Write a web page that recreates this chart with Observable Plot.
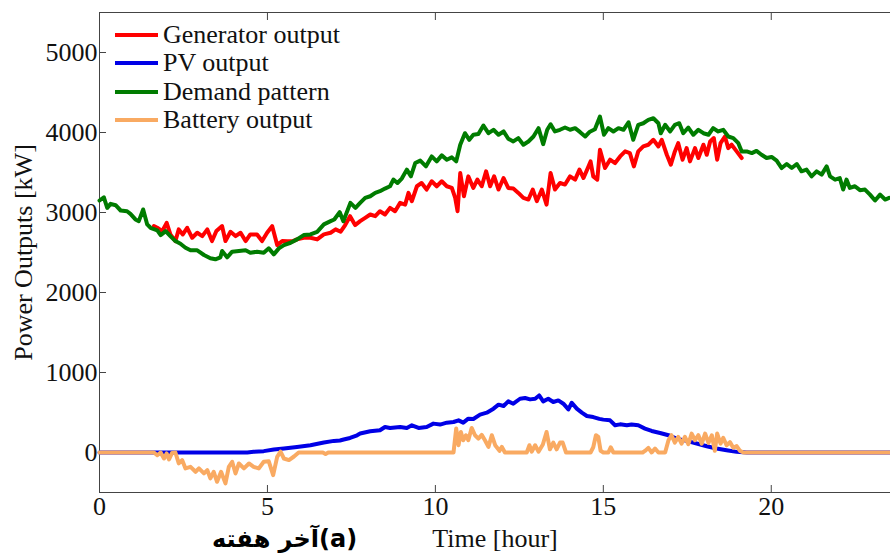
<!DOCTYPE html>
<html><head><meta charset="utf-8">
<script src="https://cdn.jsdelivr.net/npm/d3@7"></script>
<script src="https://cdn.jsdelivr.net/npm/@observablehq/plot@0.6"></script>
<style>
body{margin:0;background:#fff;}
#wrap{position:relative;width:890px;height:558px;overflow:hidden;font-family:"Liberation Serif","Times New Roman",serif;}
#legend{position:absolute;left:115px;top:20.5px;}
.row{display:flex;align-items:center;height:28.5px;font-size:26px;color:#111;white-space:nowrap;}
.sw{width:43px;height:4px;margin-right:5px;}
#cap{position:absolute;left:212px;top:525px;font-family:"DejaVu Sans",sans-serif;font-weight:bold;font-size:24px;color:#000;white-space:nowrap;}
</style></head><body><div id="wrap"></div>
<script>
// Demand pattern (green)
const demandT = [0,0.13,0.23,0.33,0.48,0.63,0.82,0.92,1.07,1.17,1.30,1.42,1.52,1.72,1.82,1.97,2.11,2.26,2.41,2.56,2.71,2.91,3.11,3.30,3.45,3.60,3.65,3.80,3.95,4.15,4.35,4.49,4.69,4.89,5.04,5.19,5.34,5.49,5.69,5.88,6.08,6.28,6.48,6.68,6.88,6.99,7.15,7.26,7.47,7.62,7.76,7.91,8.06,8.21,8.35,8.50,8.65,8.75,8.87,9.00,9.15,9.27,9.40,9.55,9.72,9.89,10.04,10.19,10.34,10.49,10.62,10.74,10.88,11.01,11.13,11.28,11.43,11.58,11.73,11.88,12.03,12.17,12.32,12.47,12.62,12.77,12.92,13.07,13.21,13.33,13.43,13.56,13.71,13.86,14.01,14.16,14.31,14.46,14.60,14.75,14.90,15.02,15.15,15.30,15.45,15.60,15.75,15.89,16.04,16.19,16.34,16.49,16.64,16.71,16.84,16.99,17.13,17.26,17.38,17.53,17.68,17.83,17.98,18.13,18.27,18.42,18.57,18.72,18.87,19.02,19.12,19.27,19.42,19.56,19.71,19.86,20.01,20.16,20.31,20.46,20.61,20.76,20.90,21.05,21.20,21.35,21.50,21.65,21.75,21.90,22.04,22.14,22.24,22.34,22.49,22.64,22.79,22.94,23.09,23.24,23.39,23.51];
const demandV = [3150,3190,3058,3108,3091,3025,3016,2983,2913,2892,3038,2851,2809,2776,2718,2768,2705,2643,2610,2560,2527,2527,2469,2428,2415,2440,2519,2440,2510,2519,2527,2497,2510,2497,2552,2477,2552,2593,2622,2664,2718,2726,2759,2851,2892,2913,3005,2890,3120,3058,3120,3182,3203,3245,3266,3299,3328,3411,3369,3424,3536,3452,3618,3648,3577,3701,3639,3714,3660,3689,3639,3847,3991,3909,3972,3980,4087,3991,4034,3972,4013,3922,3888,3930,3847,3888,3950,4054,3855,4034,4103,4013,4034,4062,4034,4054,4004,3950,4010,4040,4199,3972,4054,4013,4054,4034,4128,3909,4096,4116,4158,4178,4116,3991,4096,4013,4096,4116,3991,4062,3972,4034,3991,3972,4054,4013,4034,3950,3930,3867,3764,3764,3743,3770,3722,3681,3694,3648,3556,3606,3556,3606,3515,3536,3452,3515,3473,3577,3452,3411,3431,3287,3411,3307,3328,3279,3287,3224,3150,3224,3162,3182];

// Generator output (red)
const generatorT = [1.62,1.72,1.87,2.00,2.11,2.26,2.36,2.48,2.61,2.76,2.91,3.06,3.21,3.35,3.48,3.65,3.75,3.90,4.05,4.20,4.35,4.49,4.69,4.84,4.99,5.14,5.29,5.44,5.59,5.74,5.88,6.08,6.28,6.48,6.68,6.88,7.03,7.18,7.31,7.46,7.61,7.76,7.91,8.06,8.21,8.35,8.50,8.65,8.80,8.95,9.10,9.20,9.30,9.45,9.59,9.74,9.89,10.04,10.19,10.34,10.49,10.59,10.66,10.74,10.85,10.98,11.13,11.25,11.38,11.51,11.63,11.75,11.88,12.03,12.17,12.32,12.47,12.62,12.77,12.90,13.02,13.17,13.31,13.43,13.56,13.71,13.86,14.01,14.16,14.29,14.41,14.56,14.62,14.70,14.82,14.90,15.05,15.20,15.35,15.50,15.65,15.79,15.91,16.04,16.19,16.34,16.49,16.64,16.74,16.89,17.01,17.13,17.23,17.36,17.48,17.58,17.73,17.83,17.98,18.08,18.18,18.29,18.39,18.49,18.62,18.72,18.82,18.97,19.12];
const generatorV = [2830,2809,2768,2871,2726,2643,2789,2726,2809,2684,2747,2705,2789,2643,2768,2830,2643,2759,2705,2747,2643,2726,2726,2643,2747,2830,2593,2643,2640,2640,2664,2684,2684,2664,2726,2747,2789,2760,2840,2954,2843,2892,2933,2975,2954,3016,2975,3058,3016,3120,3099,3245,3141,3328,3369,3287,3390,3328,3390,3328,3307,3182,3016,3493,3203,3452,3307,3411,3328,3515,3328,3452,3287,3431,3307,3299,3245,3182,3162,3287,3141,3287,3099,3493,3287,3369,3349,3452,3411,3536,3431,3577,3639,3452,3411,3785,3556,3660,3618,3701,3764,3743,3577,3764,3826,3847,3909,3826,3909,3722,3598,3764,3867,3660,3805,3639,3805,3681,3847,3722,3888,3930,3660,3867,3950,3805,3847,3764,3681];

// PV output (blue)
const pvT = [0,1.7,4.40,4.59,4.89,5.19,5.49,5.88,6.28,6.68,6.98,7.16,7.27,7.46,7.67,7.76,8.06,8.35,8.50,8.65,8.95,9.15,9.30,9.50,9.74,9.94,10.14,10.34,10.54,10.69,10.83,10.98,11.13,11.33,11.53,11.73,11.88,12.03,12.17,12.32,12.52,12.67,12.82,12.97,13.09,13.21,13.36,13.51,13.66,13.81,13.96,14.06,14.21,14.36,14.51,14.70,14.88,15.00,15.20,15.35,15.50,15.70,15.84,16.04,16.24,16.44,16.69,16.94,17.18,17.48,17.78,18.08,18.37,18.67,18.97,19.27,23.55];
const pvV = [0,0,0,9,17,37,50,70,91,124,145,150,162,182,215,237,265,278,319,307,319,307,340,307,319,361,349,373,381,402,373,423,419,473,498,548,598,581,639,610,672,681,664,672,713,639,672,631,651,610,539,622,548,498,456,443,420,411,402,340,352,340,350,340,299,269,244,216,174,145,112,78,50,29,8,0,0];

// Battery output (orange)
const batteryT = [0,1.62,1.72,1.82,1.92,2.00,2.07,2.16,2.26,2.36,2.46,2.56,2.71,2.86,2.96,3.11,3.21,3.30,3.40,3.50,3.62,3.75,3.85,3.95,4.05,4.15,4.30,4.45,4.59,4.74,4.89,5.04,5.17,5.29,5.39,5.49,5.64,5.79,5.93,6.65,6.73,6.81,10.54,10.62,10.69,10.76,10.83,10.91,10.98,11.08,11.18,11.28,11.38,11.48,11.58,11.68,11.78,11.91,11.98,12.07,12.72,12.80,12.87,12.97,13.07,13.20,13.31,13.41,13.51,13.61,13.71,13.79,13.89,14.62,14.70,14.78,14.85,14.92,15.00,15.15,15.22,15.30,16.17,16.24,16.34,16.44,16.54,16.64,16.84,16.94,17.03,17.13,17.23,17.33,17.43,17.53,17.63,17.73,17.83,17.93,18.03,18.13,18.23,18.32,18.39,18.49,18.57,18.67,18.77,18.87,18.97,19.07,19.17,23.55];
const batteryV = [0,0,-34,0,-75,-12,-87,-5,0,-137,-95,-199,-179,-241,-199,-262,-220,-324,-241,-366,-241,-386,-179,-116,-262,-137,-199,-137,-179,-199,-116,-110,-283,-54,10,-75,-95,-50,0,0,-20,0,0,299,91,257,153,216,153,307,216,174,220,150,70,216,91,21,70,0,0,91,10,91,10,100,257,40,124,40,124,124,0,0,66,216,195,21,0,0,66,0,0,20,58,0,50,0,0,153,216,124,195,110,195,104,237,153,216,110,237,120,216,21,237,110,183,90,130,60,80,20,0,0];

// Tick values
const xTicks = [0,5,10,15,20];
const yTicks = [0,1000,2000,3000,4000,5000];

const seriesNames = ["Generator output","PV output","Demand pattern","Battery output"];
const seriesColors = ["#ff0000","#0000e6","#007c00","#f9aa62"];

const toRows = (T, V) => T.map((t, i) => ({t, v: V[i]}));
const seriesData = [toRows(generatorT, generatorV), toRows(pvT, pvV), toRows(demandT, demandV), toRows(batteryT, batteryV)];

const axisColor = "#444";
const plot = Plot.plot({
  width: 890, height: 558,
  marginLeft: 99, marginRight: 0, marginTop: 12, marginBottom: 66,
  style: {fontFamily: "'Liberation Serif', 'Times New Roman', serif", fontSize: "26px", color: "#111", background: "#fff"},
  x: {domain: [0, 23.55]},
  y: {domain: [-500, 5500]},
  marks: [
    Plot.frame({anchor: "top", stroke: axisColor}),
    Plot.frame({anchor: "left", stroke: axisColor}),
    Plot.frame({anchor: "bottom", stroke: axisColor}),
    Plot.axisX({anchor: "bottom", ticks: xTicks, tickSize: -7, tickPadding: 11, stroke: axisColor, tickFormat: d => String(d),
      label: "Time [hour]", labelAnchor: "center", labelArrow: "none", labelOffset: 54}),
    Plot.axisX({anchor: "top", ticks: xTicks, tickSize: -7, tickFormat: () => "", stroke: axisColor, label: null}),
    Plot.axisY({anchor: "left", ticks: yTicks, tickSize: -7, tickPadding: 9, stroke: axisColor, tickFormat: d => String(d),
      label: "Power Outputs [kW]", labelAnchor: "center", labelArrow: "none", labelOffset: 86}),
    ...seriesData.map((d, i) => Plot.line(d, {x: "t", y: "v", stroke: seriesColors[i], strokeWidth: 4, strokeLinejoin: "round"}))
  ]
});

const wrap = document.getElementById("wrap");
wrap.appendChild(plot);

const legend = document.createElement("div");
legend.id = "legend";
seriesNames.forEach((name, i) => {
  const row = document.createElement("div");
  row.className = "row";
  const sw = document.createElement("span");
  sw.className = "sw";
  sw.style.background = seriesColors[i];
  const label = document.createElement("span");
  label.textContent = name;
  row.appendChild(sw); row.appendChild(label);
  legend.appendChild(row);
});
wrap.appendChild(legend);

const cap = document.createElement("div");
cap.id = "cap";
cap.textContent = "آخر هفته(a)";
wrap.appendChild(cap);
</script>
</body></html>
